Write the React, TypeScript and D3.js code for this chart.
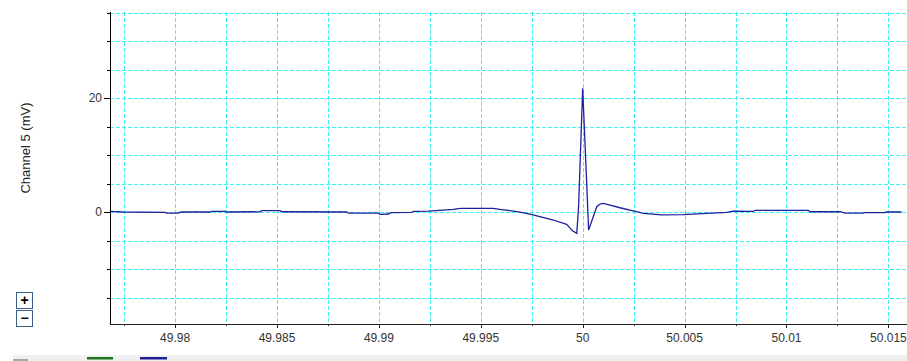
import React from 'react';
import * as d3 from 'd3';

// trace samples (time in s, value in mV)
const times = [
  49.97681, 49.97743, 49.9795, 49.9796, 49.98016, 49.9803, 49.98171, 49.9818, 49.98245, 49.98255,
  49.98417, 49.98425, 49.98515, 49.98525, 49.98842, 49.9885, 49.98997, 49.99005, 49.99046, 49.9906,
  49.99161, 49.9917, 49.99242, 49.99316, 49.99365, 49.994, 49.99561, 49.99594, 49.99635, 49.99692,
  49.99741, 49.9979, 49.99856, 49.99921, 49.9995, 49.99971, 49.9998, 50.0, 50.00012, 50.00022,
  50.00029, 50.00069, 50.00085, 50.00101, 50.00134, 50.00183, 50.00232, 50.00265, 50.00297, 50.00388,
  50.00494, 50.00608, 50.00707, 50.00739, 50.00837, 50.00845, 50.01107, 50.01115, 50.01263, 50.01287,
  50.01377, 50.01385, 50.01483, 50.0149, 50.01565,
];
const values = [
  0.1, 0.0, -0.05, -0.2, -0.2, 0.0, 0.0, 0.1, 0.1, 0.0,
  0.05, 0.25, 0.25, 0.05, 0.0, -0.2, -0.2, -0.4, -0.35, -0.1,
  -0.05, 0.1, 0.15, 0.35, 0.45, 0.65, 0.65, 0.45, 0.3, 0.0,
  -0.35, -0.8, -1.4, -2.15, -3.3, -3.75, 1.0, 21.7, 11.5, 3.0,
  -3.15, 0.93, 1.4, 1.5, 1.2, 0.75, 0.35, 0.05, -0.25, -0.5,
  -0.45, -0.25, -0.05, 0.15, 0.1, 0.3, 0.3, 0.05, 0.05, -0.2,
  -0.2, -0.1, -0.1, 0.0, 0.0,
];

const xDomain = [49.976806, 50.015913];
const yDomain = [-19.65, 35.1];
const xMajorTicks = [49.98, 49.985, 49.99, 49.995, 50, 50.005, 50.01, 50.015];
const xTickLabels = ['49.98', '49.985', '49.99', '49.995', '50', '50.005', '50.01', '50.015'];
const xMinorTicks = [49.9775, 49.9825, 49.9875, 49.9925, 49.9975, 50.0025, 50.0075, 50.0125];
const yMajorTicks = [0, 20];
const yTickLabels = ['0', '20'];
const yMinorTicks = [-15, -10, -5, 5, 10, 15, 25, 30, 35];
const yLabel = 'Channel 5 (mV)';

const W = 907, H = 361;
const left = 110, right = 907, top = 12, bottom = 324;
const gridColor = '#3ff0f0';
const font = '"Liberation Sans", Arial, sans-serif';

export default function App() {
  const x = d3.scaleLinear().domain(xDomain).range([left, right]);
  const y = d3.scaleLinear().domain(yDomain).range([bottom, top]);
  const pts = times.map((t, i) => [t, values[i]] as [number, number]);
  const line = d3.line<[number, number]>().x(d => x(d[0])).y(d => y(d[1]));
  const allX = [...xMajorTicks, ...xMinorTicks];
  const allY = [...yMajorTicks, ...yMinorTicks];

  return (
    <svg width={W} height={H} style={{ position: 'absolute', left: 0, top: 0, background: '#fff' }} fontFamily={font}>
      <defs>
        <clipPath id="plot"><rect x={left} y={top} width={right - left} height={bottom - top} /></clipPath>
      </defs>
      {/* grid */}
      {allX.map(v => (
        <line key={'gx' + v} x1={Math.round(x(v)) + 0.5} x2={Math.round(x(v)) + 0.5} y1={top} y2={bottom}
          stroke={gridColor} strokeDasharray="4,2" />
      ))}
      {allY.map(v => (
        <line key={'gy' + v} x1={left} x2={right} y1={Math.round(y(v)) + 0.5} y2={Math.round(y(v)) + 0.5}
          stroke={gridColor} strokeDasharray="4,2" />
      ))}
      {/* trace */}
      <path d={line(pts) || ''} fill="none" stroke="#1f1f9c" strokeWidth={1.3} clipPath="url(#plot)" />
      {/* axes */}
      <line x1={left + 0.5} x2={left + 0.5} y1={top} y2={bottom} stroke="#000" />
      <line x1={left} x2={right} y1={bottom + 0.5} y2={bottom + 0.5} stroke="#222" />
      {yMinorTicks.map(v => (
        <line key={'ty' + v} x1={left - 3} x2={left} y1={Math.round(y(v)) + 0.5} y2={Math.round(y(v)) + 0.5} stroke="#000" />
      ))}
      {yMajorTicks.map((v, i) => (
        <g key={'ly' + v}>
          <line x1={left - 6} x2={left} y1={Math.round(y(v)) + 0.5} y2={Math.round(y(v)) + 0.5} stroke="#000" />
          <text x={left - 8} y={y(v)} dy="0.35em" textAnchor="end" fontSize={12} fill="#333">{yTickLabels[i]}</text>
        </g>
      ))}
      {xMinorTicks.map(v => (
        <line key={'tx' + v} x1={Math.round(x(v)) + 0.5} x2={Math.round(x(v)) + 0.5} y1={bottom} y2={bottom + 2} stroke="#222" />
      ))}
      {xMajorTicks.map((v, i) => (
        <g key={'lx' + v}>
          <line x1={Math.round(x(v)) + 0.5} x2={Math.round(x(v)) + 0.5} y1={bottom} y2={bottom + 4} stroke="#222" />
          <text x={x(v)} y={342} textAnchor="middle" fontSize={12} fill="#333">{xTickLabels[i]}</text>
        </g>
      ))}
      <text transform="translate(30,148) rotate(-90)" textAnchor="middle" fontSize={13} fill="#222">{yLabel}</text>
      {/* zoom buttons */}
      <rect x={16.5} y={292.5} width={16} height={16} fill="#fff" stroke="#3b5f86" />
      <rect x={16.5} y={310.5} width={16} height={16} fill="#fff" stroke="#3b5f86" />
      <text x={24.5} y={305} textAnchor="middle" fontSize={14} fontWeight="bold" fill="#000">+</text>
      <text x={24.5} y={323} textAnchor="middle" fontSize={14} fontWeight="bold" fill="#000">−</text>
      {/* legend strip */}
      <rect x={13} y={355} width={W - 13} height={6} fill="#f0f0f0" />
      <rect x={13} y={359} width={15} height={2} fill="#a8a8a8" />
      <rect x={87} y={357} width={26} height={2.5} fill="#1e721e" />
      <rect x={140} y={357} width={27} height={2.5} fill="#1f1f9c" />
    </svg>
  );
}
